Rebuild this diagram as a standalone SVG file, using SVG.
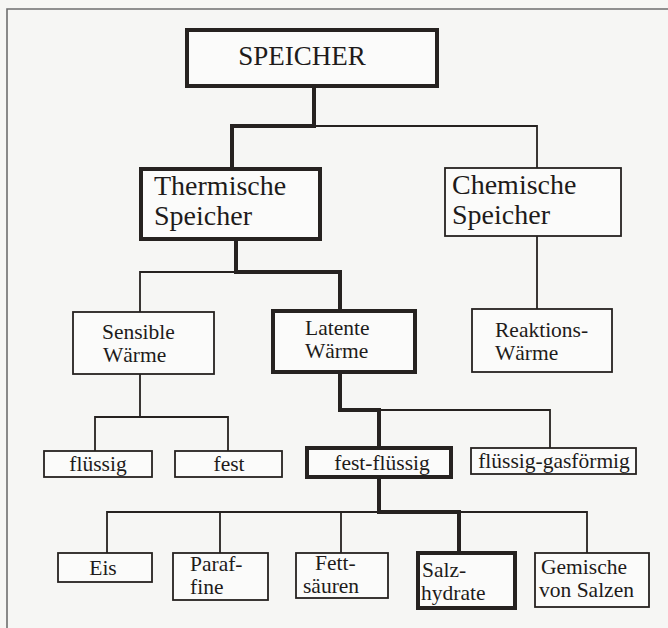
<svg xmlns="http://www.w3.org/2000/svg" width="668" height="628" viewBox="0 0 668 628">
<style>
.bg{fill:#f6f6f4}
.frame{fill:none;stroke:#6e6e6e;stroke-width:1.6}
.box{fill:#fbfbfa;stroke:#262220;stroke-width:1.8}
.thick{fill:#fbfbfa;stroke:#262220;stroke-width:4}
.c{fill:none;stroke:#262220;stroke-width:1.8;stroke-linecap:square;stroke-linejoin:miter}
.ct{fill:none;stroke:#262220;stroke-width:4;stroke-linecap:square;stroke-linejoin:miter}
text{font-family:"Liberation Serif","Times New Roman",serif;fill:#1e1b1a}
.l1{font-size:27px}
.l2{font-size:28px}
.l3{font-size:21.5px}
.m{text-anchor:middle}
</style>
<rect class="bg" x="0" y="0" width="668" height="628"/>
<path class="frame" d="M7 628 V9 H668"/>
<g id="connectors">
<path class="c" d="M314 126 H537 V168"/>
<path class="c" d="M236 272 H140 V312"/>
<path class="c" d="M537 236 V309"/>
<path class="c" d="M140 374 V417 H95 V451"/>
<path class="c" d="M140 417 H228 V451"/>
<path class="c" d="M379 410 H550 V448"/>
<path class="c" d="M379 512 H107 V553"/>
<path class="c" d="M220 512 V553"/>
<path class="c" d="M341 512 V553"/>
<path class="c" d="M459 512 H587 V553"/>
<path class="ct" d="M314 86 V126 H232 V169"/>
<path class="ct" d="M236 239 V272 H340 V311"/>
<path class="ct" d="M340 372 V410 H379 V448"/>
<path class="ct" d="M379 477 V512 H459 V553"/>
</g>
<g id="speicher"><rect class="thick" x="187" y="30" width="250" height="56"/><text class="l1 m" x="302" y="65">SPEICHER</text></g>
<g id="thermische"><rect class="thick" x="141" y="169" width="179" height="70"/><text class="l2" x="154" y="195">Thermische</text><text class="l2" x="154" y="225">Speicher</text></g>
<g id="chemische"><rect class="box" x="445" y="168" width="176" height="68"/><text class="l2" x="452" y="194">Chemische</text><text class="l2" x="452" y="224">Speicher</text></g>
<g id="sensible"><rect class="box" x="73" y="312" width="141" height="62"/><text class="l3" x="102" y="339">Sensible</text><text class="l3" x="103" y="362">Wärme</text></g>
<g id="latente"><rect class="thick" x="273" y="311" width="142" height="61"/><text class="l3" x="305" y="335">Latente</text><text class="l3" x="305" y="358">Wärme</text></g>
<g id="reaktions"><rect class="box" x="472" y="309" width="140" height="63"/><text class="l3" x="495" y="337">Reaktions-</text><text class="l3" x="495" y="360">Wärme</text></g>
<g id="fluessig"><rect class="box" x="44" y="451" width="108" height="26"/><text class="l3 m" x="98" y="471">flüssig</text></g>
<g id="fest"><rect class="box" x="175" y="451" width="107" height="26"/><text class="l3 m" x="229" y="471">fest</text></g>
<g id="fest-fluessig"><rect class="thick" x="307" y="448" width="144" height="29"/><text class="l3 m" x="382" y="470">fest-flüssig</text></g>
<g id="fluessig-gasfoermig"><rect class="box" x="471" y="448" width="165" height="26"/><text class="l3 m" x="554" y="468">flüssig-gasförmig</text></g>
<g id="eis"><rect class="box" x="58" y="553" width="94" height="29"/><text class="l3 m" x="103" y="575">Eis</text></g>
<g id="paraffine"><rect class="box" x="173" y="553" width="95" height="47"/><text class="l3" x="190" y="571">Paraf-</text><text class="l3" x="190" y="594">fine</text></g>
<g id="fettsaeuren"><rect class="box" x="296" y="553" width="92" height="45"/><text class="l3" x="315" y="570">Fett-</text><text class="l3" x="303" y="593">säuren</text></g>
<g id="salzhydrate"><rect class="thick" x="418" y="553" width="97" height="55"/><text class="l3" x="422" y="577">Salz-</text><text class="l3" x="421" y="600">hydrate</text></g>
<g id="gemische"><rect class="box" x="535" y="553" width="114" height="54"/><text class="l3" x="541" y="574">Gemische</text><text class="l3" x="539" y="597">von Salzen</text></g>
</svg>
